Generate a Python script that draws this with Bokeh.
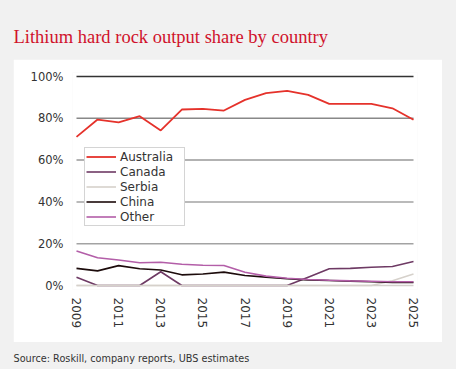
from bokeh.plotting import figure
from bokeh.layouts import column
from bokeh.models import Range1d, FixedTicker, Legend, LegendItem
from bokeh.core.properties import value
from bokeh.embed import file_html
from bokeh.resources import INLINE

# ---------------- data ----------------
years = [2009, 2010, 2011, 2012, 2013, 2014, 2015, 2016, 2017, 2018, 2019, 2020, 2021, 2022, 2023, 2024, 2025]
australia = [71.1, 79.4, 78.1, 81.0, 74.2, 84.2, 84.5, 83.7, 88.8, 92.0, 93.1, 91.2, 86.9, 86.9, 86.9, 84.8, 79.3]
canada = [3.9, 0, 0, 0, 6.6, 0, 0, 0, 0, 0, 0, 4.0, 8.0, 8.2, 8.7, 9.1, 11.5]
serbia = [0, 0, 0, 0, 0, 0, 0, 0, 0, 0, 0, 0, 0, 0, 0, 2.3, 5.5]
china = [8.2, 7.0, 9.5, 8.0, 7.4, 5.1, 5.5, 6.4, 4.8, 4.0, 3.2, 2.7, 2.4, 2.1, 1.8, 1.5, 1.4]
other = [16.5, 13.3, 12.2, 10.9, 11.1, 10.2, 9.7, 9.6, 6.3, 4.5, 3.5, 2.9, 2.5, 2.2, 2.0, 1.8, 1.8]
series_names = ["Australia", "Canada", "Serbia", "China", "Other"]
x_ticks = [2009, 2011, 2013, 2015, 2017, 2019, 2021, 2023, 2025]
x_tick_labels = ["2009", "2011", "2013", "2015", "2017", "2019", "2021", "2023", "2025"]
y_ticks = [0, 20, 40, 60, 80, 100]
y_tick_labels = ["0%", "20%", "40%", "60%", "80%", "100%"]
title_text = "Lithium hard rock output share by country"
source_text = "Source: Roskill, company reports, UBS estimates"

BG = "#f1f1f1"
FONT = "DejaVu Sans"
PAGE_W, PAGE_H = 456, 369
PANEL_L, PANEL_R, PANEL_T, PANEL_B = 13, 442, 59, 342


def strip(height, txt, tx, ty, font, size, color):
    f = figure(width=PAGE_W, height=height, output_backend="svg", toolbar_location=None,
               x_range=Range1d(0, PAGE_W), y_range=Range1d(height, 0),
               x_axis_type=None, y_axis_type=None, title=None,
               min_border=0, min_border_left=0, min_border_right=0,
               min_border_top=0, min_border_bottom=0, frame_align=False)
    f.background_fill_color = BG
    f.border_fill_color = BG
    f.outline_line_color = None
    f.grid.visible = False
    f.text(x=[tx], y=[ty], text=[txt], text_font=value(font), text_font_size=size,
           text_color=color, text_baseline="alphabetic", text_align="left")
    return f


title_fig = strip(PANEL_T, title_text, 13, 36, "Liberation Serif", "18.5px", "#d0112b")
source_fig = strip(PAGE_H - PANEL_B, source_text, 13, 16, FONT, "9.7px", "#333333")

# ---------------- main chart ----------------
W, H = PANEL_R - PANEL_L, PANEL_B - PANEL_T          # 429 x 283
PX_X0, PX_X1 = 76 - PANEL_L, 413 - PANEL_L           # first / last year (canvas px)
PX_Y100, PX_Y0 = 76 - PANEL_T, 285 - PANEL_T         # 100% / 0% (canvas px)
PAD = 4
FL, FR, FT, FB = PX_X0 - PAD, PX_X1 + PAD, PX_Y100 - PAD, PX_Y0 + PAD
kx = (PX_X1 - PX_X0) / (years[-1] - years[0])
ky = (PX_Y0 - PX_Y100) / 100.0
x_start = years[0] - PAD / kx
x_end = years[-1] + PAD / kx
y_start = 0 - PAD / ky
y_end = 100 + PAD / ky

p = figure(width=W, height=H, output_backend="svg", toolbar_location=None,
           x_range=Range1d(x_start, x_end), y_range=Range1d(y_start, y_end),
           title=None, frame_align=False,
           min_border_left=FL, min_border_right=W - FR,
           min_border_top=FT, min_border_bottom=H - FB)
p.background_fill_color = "white"
p.border_fill_color = "white"
p.outline_line_color = None
p.grid.visible = False
p.margin = (0, PAGE_W - PANEL_R, 0, PANEL_L)

grid_colors = ["#d4d0cc", "#a3a3a3", "#a3a3a3", "#999999", "#888888", "#333333"]
p.segment(x0=[years[0]] * len(y_ticks), x1=[years[-1]] * len(y_ticks),
          y0=y_ticks, y1=y_ticks, line_color=grid_colors, line_width=1.5)

p.xaxis.ticker = FixedTicker(ticks=x_ticks)
p.xaxis.major_label_overrides = dict(zip(x_ticks, x_tick_labels))
p.xaxis.major_label_orientation = "vertical"
p.yaxis.ticker = FixedTicker(ticks=y_ticks)
p.yaxis.major_label_overrides = dict(zip(y_ticks, y_tick_labels))
for ax in (p.xaxis, p.yaxis):
    ax.axis_line_color = None
    ax.major_tick_line_color = None
    ax.minor_tick_line_color = None
    ax.major_label_text_font = FONT
    ax.major_label_text_color = "#333333"
p.xaxis.major_label_text_font_size = "12px"
p.yaxis.major_label_text_font_size = "11.5px"
p.xaxis.major_label_standoff = 2
p.yaxis.major_label_standoff = 3

colors = ["#e5322b", "#6e3a64", "#d6d1cb", "#1c0b0b", "#b35ea8"]
widths = [1.8, 1.6, 1.6, 1.6, 1.6]
items = []
for name, vals, col, lw in zip(series_names, [australia, canada, serbia, china, other], colors, widths):
    r = p.line(years, vals, line_color=col, line_width=lw)
    items.append(LegendItem(label=name, renderers=[r]))

legend = Legend(items=items, location=(12, 63), glyph_width=30, glyph_height=15,
                label_height=15, label_width=63, spacing=0, padding=1, margin=0,
                label_standoff=4, label_text_font=FONT, label_text_font_size="12px",
                label_text_color="#333333", border_line_color="#aaaaaa",
                border_line_width=1, background_fill_color="white", background_fill_alpha=1)
p.add_layout(legend, "center")

layout = column(title_fig, p, source_fig, spacing=0)
layout.styles = {"background-color": BG}

html = file_html(layout, INLINE)
html = html.replace("<head>", "<head><style>html,body{background:#f1f1f1;}</style>", 1)
open("out.html", "w").write(html)
